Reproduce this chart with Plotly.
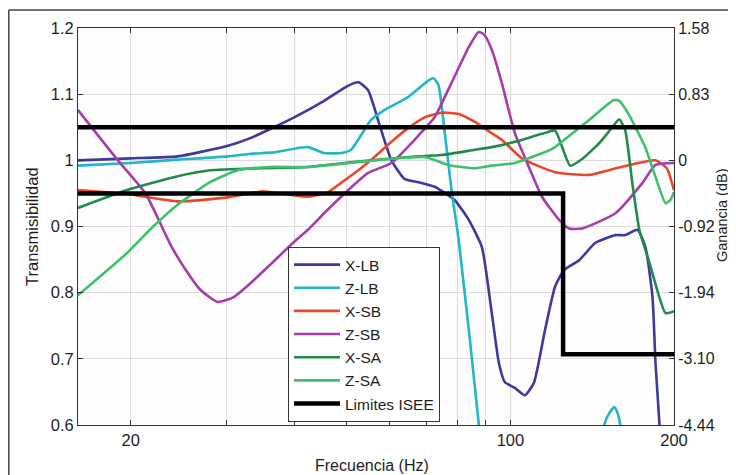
import plotly.graph_objects as go

# ---- data (frequency in Hz, transmissibility) ----
xlb_f = [16.0, 20.0, 24.4, 30.2, 33.3, 36.7, 40.0, 45.4, 50.3, 52.5, 54.7, 57.8, 60.4, 63.8, 67.7, 72.5,
         78.9, 83.8, 88.6, 92.4, 95.2, 97.6, 101.9, 106.3, 110.5, 115.8, 120.8, 125.5, 133.8, 143.2,
         156.0, 162.7, 171.3, 177.2, 182.6, 184.9, 188.1, 192.0]
xlb_v = [1.000, 1.003, 1.006, 1.022, 1.034, 1.050, 1.065, 1.090, 1.113, 1.118, 1.106, 1.046, 1.000, 0.972,
         0.967, 0.960, 0.940, 0.910, 0.869, 0.769, 0.694, 0.665, 0.656, 0.645, 0.664, 0.744, 0.809, 0.834,
         0.849, 0.875, 0.887, 0.887, 0.895, 0.869, 0.793, 0.694, 0.600, 0.450]

zlb_f = [16.0, 20.0, 24.4, 30.2, 33.3, 36.7, 42.4, 45.4, 48.8, 50.9, 55.4, 58.6, 64.9, 70.7, 72.2, 73.7,
         75.6, 77.9, 80.3, 87.4, 89.0, 100.0, 140.0, 148.8, 152.0, 155.3, 157.3, 159.3, 166.0, 200.0]
zlb_v = [0.992, 0.996, 1.001, 1.006, 1.010, 1.012, 1.020, 1.011, 1.011, 1.016, 1.061, 1.076, 1.096, 1.121,
         1.124, 1.114, 1.046, 0.955, 0.880, 0.603, 0.500, 0.420, 0.450, 0.600, 0.618, 0.627, 0.619, 0.600,
         0.450, 0.400]

xsb_f = [16.0, 19.7, 24.4, 30.2, 34.8, 37.8, 42.4, 46.2, 48.8, 52.5, 56.2, 60.4, 64.9, 69.5, 74.7, 80.3,
         86.0, 92.4, 96.4, 105.0, 120.8, 139.6, 160.0, 184.9, 194.0, 200.0]
xsb_v = [0.955, 0.949, 0.938, 0.944, 0.953, 0.950, 0.945, 0.952, 0.966, 0.985, 1.005, 1.028, 1.049, 1.065,
         1.072, 1.070, 1.058, 1.041, 1.031, 1.003, 0.982, 0.978, 0.990, 1.000, 0.988, 0.955]

zsb_f = [16.0, 18.95, 21.3, 23.7, 25.0, 26.9, 28.9, 30.9, 33.3, 36.1, 40.0, 42.4, 45.4, 48.8, 54.7, 60.4,
         66.6, 72.5, 77.9, 83.8, 87.4, 89.5, 92.4, 96.4, 101.9, 108.1, 114.3, 122.9, 128.2, 135.5, 156.0,
         175.0, 184.9, 200.0]
zsb_v = [1.076, 1.000, 0.950, 0.872, 0.840, 0.804, 0.786, 0.793, 0.815, 0.842, 0.877, 0.895, 0.920, 0.945,
         0.981, 0.996, 1.031, 1.065, 1.117, 1.171, 1.194, 1.190, 1.167, 1.117, 1.041, 0.990, 0.945, 0.910,
         0.897, 0.897, 0.920, 0.966, 0.993, 0.996]

xsa_f = [16.0, 19.7, 24.4, 28.0, 34.8, 42.4, 52.5, 64.9, 74.7, 86.0, 92.4, 101.9, 114.3, 120.8, 128.8,
         135.5, 145.7, 154.0, 158.6, 162.7, 167.6, 172.7, 180.3, 193.0, 200.0]
xsa_v = [0.928, 0.955, 0.976, 0.985, 0.988, 0.990, 0.998, 1.005, 1.008, 1.016, 1.020, 1.028, 1.040, 1.045,
         0.992, 1.002, 1.026, 1.050, 1.062, 1.045, 0.966, 0.895, 0.845, 0.769, 0.772]

zsa_f = [16.0, 19.7, 22.0, 24.4, 28.0, 31.5, 36.1, 42.4, 56.2, 69.5, 76.9, 86.0, 92.4, 101.9, 117.8, 120.8,
         139.6, 155.0, 158.6, 164.7, 177.0, 184.9, 193.0, 197.0, 200.0]
zsa_v = [0.796, 0.860, 0.900, 0.933, 0.967, 0.985, 0.990, 0.990, 1.000, 1.005, 0.993, 0.988, 0.992, 0.996,
         1.015, 1.020, 1.061, 1.091, 1.090, 1.071, 1.020, 0.975, 0.935, 0.940, 0.952]

lim_f = [16.0, 200.0, None, 16.0, 125.0, 125.0, 200.0]
lim_v = [1.05, 1.05, None, 0.95, 0.95, 0.707, 0.707]

series_names = ["X-LB", "Z-LB", "X-SB", "Z-SB", "X-SA", "Z-SA"]
series_colors = ["#3d3a9c", "#22b6c8", "#e9472b", "#a43ea9", "#238a4c", "#40c06e"]

left_ticks = [0.6, 0.7, 0.8, 0.9, 1.0, 1.1, 1.2]
left_ticktext = ["0.6", "0.7", "0.8", "0.9", "1", "1.1", "1.2"]
right_ticktext = ["-4.44", "-3.10", "-1.94", "-0.92", "0", "0.83", "1.58"]
x_ticks = [20, 100, 200]
x_minor = [30, 40, 50, 60, 70, 80, 90]

FONT = "Liberation Sans, Arial, sans-serif"
TXT = "#1e1e1e"
TICK_SIZE = 16.5

fig = go.Figure()
data = [(xlb_f, xlb_v), (zlb_f, zlb_v), (xsb_f, xsb_v), (zsb_f, zsb_v), (xsa_f, xsa_v), (zsa_f, zsa_v)]
for (fx, vy), nm, col in zip(data, series_names, series_colors):
    fig.add_trace(go.Scatter(x=fx, y=vy, mode="lines", name=nm,
                             line=dict(color=col, width=2.6, shape="spline", smoothing=0.5)))
fig.add_trace(go.Scatter(x=lim_f, y=lim_v, mode="lines", name="Limites ISEE",
                         line=dict(color="black", width=4.5), connectgaps=False))
# invisible trace for the right axis
fig.add_trace(go.Scatter(x=[20], y=[1.0], yaxis="y2", mode="markers",
                         marker=dict(opacity=0), showlegend=False, hoverinfo="skip"))

# the page adds an 8px body margin, so the figure is laid out 8px smaller / shifted
OFF = 8
W, H = 736 - OFF, 475 - OFF
L, T = 78 - OFF, 28 - OFF
R = W - (674 - OFF)
B = H - (425 - OFF)
pw, ph = W - L - R, H - T - B

def px_x(px):
    return (px - OFF - L) / pw

def px_y(py):
    return (H - B - (py - OFF)) / ph

fig.update_layout(
    width=W, height=H,
    margin=dict(l=L, r=R, t=T, b=B, autoexpand=False),
    paper_bgcolor="white", plot_bgcolor="#fdfdfd",
    font=dict(family=FONT, color=TXT, size=15),
    showlegend=True,
    legend=dict(x=px_x(288), y=px_y(247), xanchor="left", yanchor="top",
                bgcolor="white", bordercolor="#333333", borderwidth=1,
                font=dict(size=15.5, family=FONT, color=TXT),
                itemwidth=46, tracegroupgap=0),
    xaxis=dict(type="log", range=[1.2041, 2.30103], tickvals=x_ticks, ticktext=["20", "100", "200"],
               showgrid=True, gridcolor="#dcdcdc", gridwidth=1,
               ticks="inside", ticklen=5, tickcolor="#333333",
               showline=True, linecolor="#333333", linewidth=1, mirror="ticks",
               minor=dict(tickvals=x_minor, showgrid=True, gridcolor="#dcdcdc", ticks="inside",
                          ticklen=5, tickcolor="#333333"),
               tickfont=dict(size=TICK_SIZE, family=FONT, color=TXT), zeroline=False, automargin=False),
    yaxis=dict(range=[0.6, 1.2], tickvals=left_ticks, ticktext=left_ticktext,
               showgrid=True, gridcolor="#dcdcdc", gridwidth=1,
               ticks="inside", ticklen=5, tickcolor="#333333",
               showline=True, linecolor="#333333", linewidth=1,
               tickfont=dict(size=TICK_SIZE, family=FONT, color=TXT), zeroline=False, automargin=False),
    yaxis2=dict(range=[0.6, 1.2], overlaying="y", side="right", tickvals=left_ticks,
                ticktext=right_ticktext, showgrid=False, ticks="inside", ticklen=5,
                tickcolor="#333333", showline=True, linecolor="#333333", linewidth=1,
                tickfont=dict(size=16, family=FONT, color=TXT), zeroline=False, automargin=False),
)

# axis titles
fig.add_annotation(text="Transmisibilidad", xref="paper", yref="paper", x=px_x(32), y=px_y(227),
                   textangle=-90, showarrow=False, xanchor="center", yanchor="middle",
                   font=dict(size=16.5, family=FONT, color=TXT))
fig.add_annotation(text="Ganancia (dB)", xref="paper", yref="paper", x=px_x(722), y=px_y(215),
                   textangle=-90, showarrow=False, xanchor="center", yanchor="middle",
                   font=dict(size=14.5, family=FONT, color=TXT))
fig.add_annotation(text="Frecuencia (Hz)", xref="paper", yref="paper", x=px_x(372), y=px_y(465),
                   showarrow=False, xanchor="center", yanchor="middle",
                   font=dict(size=16, family=FONT, color=TXT))

# outer frame (top and left edges)
fig.add_shape(type="line", xref="paper", yref="paper", x0=px_x(8.8), x1=px_x(740), y0=px_y(10), y1=px_y(10),
              line=dict(color="#444444", width=1.5))
fig.add_shape(type="line", xref="paper", yref="paper", x0=px_x(8.8), x1=px_x(8.8), y0=px_y(10), y1=px_y(480),
              line=dict(color="#444444", width=1.5))

fig.write_html("out.html")
